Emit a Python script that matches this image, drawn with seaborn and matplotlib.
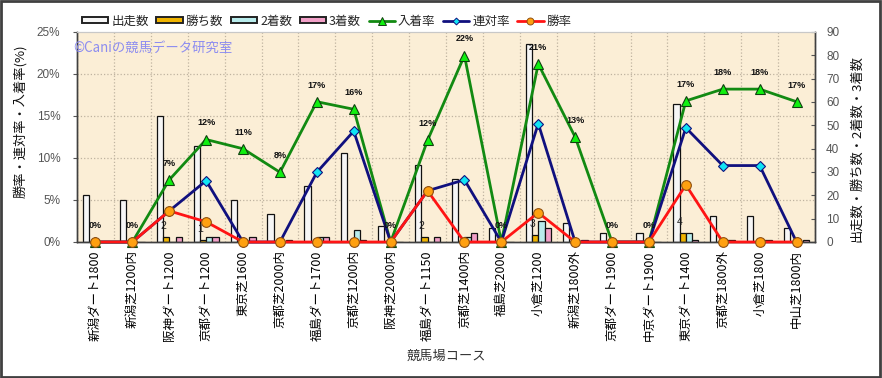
import numpy as np
import pandas as pd
import matplotlib
matplotlib.use("Agg")
import matplotlib.pyplot as plt
from matplotlib.patches import Patch, Rectangle
from matplotlib.lines import Line2D
from matplotlib.font_manager import FontProperties
import seaborn as sns

# ---------------- data ----------------
courses = ["新潟ダート1800", "新潟芝1200内", "阪神ダート1200", "京都ダート1200", "東京芝1600",
           "京都芝2000内", "福島ダート1700", "京都芝1200内", "阪神芝2000内", "福島ダート1150",
           "京都芝1400内", "福島芝2000", "小倉芝1200", "新潟芝1800外", "京都ダート1900",
           "中京ダート1900", "東京ダート1400", "京都芝1800外", "小倉芝1800", "中山芝1800内"]
starts = [20, 18, 54, 41, 18, 12, 24, 38, 7, 33, 27, 6, 85, 8, 4, 4, 59, 11, 11, 6]
wins = [0, 0, 2, 1, 0, 0, 0, 0, 0, 2, 0, 0, 3, 0, 0, 0, 4, 0, 0, 0]
seconds = [0, 0, 0, 2, 0, 0, 2, 5, 0, 0, 2, 0, 9, 0, 0, 0, 4, 1, 1, 0]
thirds = [0, 0, 2, 2, 2, 1, 2, 1, 0, 2, 4, 0, 6, 1, 0, 0, 1, 1, 1, 1]
show_rate = [0, 0, 7.4, 12.2, 11.1, 8.3, 16.7, 15.8, 0, 12.1, 22.2, 0, 21.2, 12.5, 0, 0, 16.8, 18.2, 18.2, 16.7]
quinella_rate = [0, 0, 3.7, 7.3, 0, 0, 8.3, 13.2, 0, 6.1, 7.4, 0, 14.1, 0, 0, 0, 13.6, 9.1, 9.1, 0]
win_rate = [0, 0, 3.7, 2.4, 0, 0, 0, 0, 0, 6.1, 0, 0, 3.5, 0, 0, 0, 6.8, 0, 0, 0]
show_labels = ["0%", "0%", "7%", "12%", "11%", "8%", "17%", "16%", "0%", "12%",
               "22%", "0%", "21%", "13%", "0%", "0%", "17%", "18%", "18%", "17%"]
bar_series = ["出走数", "勝ち数", "2着数", "3着数"]
line_series = ["入着率", "連対率", "勝率"]
left_ticks = [0, 5, 10, 15, 20, 25]
right_ticks = [0, 10, 20, 30, 40, 50, 60, 70, 80, 90]

# ---------------- style ----------------
sns.set_style("white")
CJK = ["Noto Sans CJK JP", "DejaVu Sans"]
LAT = ["Liberation Sans", "DejaVu Sans"]
plt.rcParams["font.family"] = CJK
plt.rcParams["axes.unicode_minus"] = False

bar_colors = ["#f6f6f6", "#f0b400", "#b8ecec", "#f2a0c8"]
line_colors = ["#128a12", "#10107e", "#ff1414"]
marker_faces = ["#10f010", "#10e4f4", "#ffa010"]
marker_edges = ["#104010", "#10107e", "#905010"]
markers = ["^", "D", "o"]
marker_sizes = [7.5, 5.5, 7]

W, H = 882, 378
fig = plt.figure(figsize=(W / 100, H / 100), dpi=100)
fig.patch.set_facecolor("white")
ax = fig.add_subplot(111)
fig.subplots_adjust(left=77 / W, right=815 / W, top=1 - 32 / H, bottom=1 - 242 / H)
ax.set_facecolor("#fbeed6")

# ---------------- bars (count axis, shown on right) ----------------
df = pd.DataFrame({
    "course": courses * 4,
    "series": sum([[s] * len(courses) for s in bar_series], []),
    "value": starts + wins + seconds + thirds,
})
sns.barplot(data=df, x="course", y="value", hue="series", order=courses,
            hue_order=bar_series, palette=bar_colors, saturation=1,
            width=0.68, gap=0, dodge=True, edgecolor="#111111", linewidth=0.9,
            errorbar=None, legend=False, ax=ax, zorder=2)
ax.set_xlim(-0.5, len(courses) - 0.5)
ax.set_ylim(0, 90)
ax.set_xlabel("")
ax.set_ylabel("")

# grid
for v in left_ticks[1:-1]:
    ax.axhline(v * 90 / 25, color="#bfb3a0", linestyle=":", linewidth=0.9, zorder=1)
ax.set_xticks(np.arange(-0.5, len(courses), 1), minor=True)
ax.grid(which="minor", axis="x", color="#bfb3a0", linestyle=":", linewidth=0.9)
ax.set_axisbelow(True)

ax.set_xticks(range(len(courses)))
ax.set_xticklabels(courses, rotation=90, fontsize=9, family=CJK, color="black")
ax.tick_params(axis="x", which="both", length=0, pad=6)

# win count labels
for i, w in enumerate(wins):
    if w > 0:
        ax.annotate(str(w), (i - 0.085, w), xytext=(-2, 8), textcoords="offset points",
                    ha="center", va="center", fontsize=7.5, family=LAT, color="#222222")

# ---------------- lines (rate axis, shown on left) ----------------
ax2 = ax.twinx()
x = np.arange(len(courses))
for vals, name, lc, mf, me, mk, ms in zip([show_rate, quinella_rate, win_rate], line_series,
                                          line_colors, marker_faces, marker_edges, markers, marker_sizes):
    sns.lineplot(x=x, y=vals, ax=ax2, color=lc, linewidth=2.0, marker=mk, markersize=ms,
                 markerfacecolor=mf, markeredgecolor=me, markeredgewidth=0.8,
                 clip_on=False, zorder=3, legend=False)
ax2.set_ylim(0, 25)
ax2.set_ylabel("")

for i, (v, t) in enumerate(zip(show_rate, show_labels)):
    ax2.annotate(t, (i, v), xytext=(0, 12), textcoords="offset points", ha="center",
                 va="center", fontsize=6.5, fontweight="bold", family=LAT, color="#111111")

# axis sides: counts on the right, rates on the left (after twinx)
ax.yaxis.tick_right()
ax.set_yticks(right_ticks)
ax.set_yticklabels([str(t) for t in right_ticks])
ax.tick_params(axis="y", direction="in", length=3, pad=8, labelsize=8.5,
               colors="#555555", labelcolor="#555555", left=False, labelleft=False,
               right=True, labelright=True)
for lab in ax.get_yticklabels():
    lab.set_family(LAT)

ax2.yaxis.tick_left()
ax2.set_yticks(left_ticks)
ax2.set_yticklabels([f"{t}%" for t in left_ticks])
ax2.tick_params(axis="y", direction="out", length=3, pad=9, labelsize=8.5,
                colors="#555555", labelcolor="#555555", right=False, labelright=False,
                left=True, labelleft=True)
for lab in ax2.get_yticklabels():
    lab.set_family(LAT)

for a in (ax, ax2):
    for s in ["left", "right", "bottom"]:
        a.spines[s].set_color("#404040")
        a.spines[s].set_linewidth(1.0)
    a.spines["top"].set_color("#c8c8c8")

# watermark
fig.text(73 / W, 1 - 48 / H, "©Caniの競馬データ研究室", fontsize=9.6, color="#8c8cf0",
         family=CJK, ha="left", va="center")

# axis titles
fig.text(20 / W, 1 - 121 / H, "勝率・連対率・入着率(%)", rotation=90, fontsize=9.5,
         ha="center", va="center", family=CJK, color="#111111")
fig.text(857 / W, 1 - 148 / H, "出走数・勝ち数・2着数・3着数", rotation=90, fontsize=9.5,
         ha="center", va="center", family=CJK, color="#111111")
fig.text(446 / W, 1 - 356 / H, "競馬場コース", fontsize=9.5, ha="center", va="center",
         family=CJK, color="#333333")

# legend
handles = [Patch(facecolor=c, edgecolor="#222222", linewidth=1.4) for c in bar_colors]
handles += [Line2D([0], [0], color=lc, linewidth=2.0, marker=mk, markersize=ms - 2,
                   markerfacecolor=mf, markeredgecolor=me, markeredgewidth=0.7)
            for lc, mf, me, mk, ms in zip(line_colors, marker_faces, marker_edges, markers, marker_sizes)]
fig.legend(handles, bar_series + line_series, ncol=7, loc="center left",
           bbox_to_anchor=(82 / W, 1 - 21 / H), frameon=False,
           prop=FontProperties(family=CJK, size=9), handlelength=2.1, handleheight=0.45,
           handletextpad=0.25, columnspacing=0.6, borderpad=0, borderaxespad=0)

# outer border
fig.patches.append(Rectangle((0.001, 0.002), 0.997, 0.996, transform=fig.transFigure,
                             fill=False, edgecolor="#404040", linewidth=2.0))

fig.savefig("out.png", dpi=100)
